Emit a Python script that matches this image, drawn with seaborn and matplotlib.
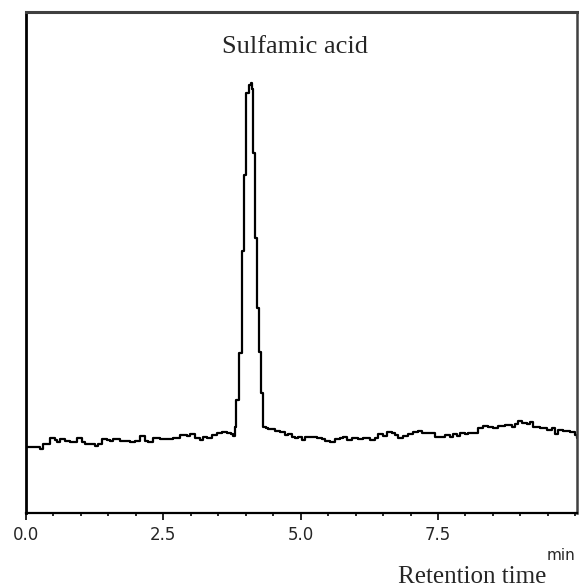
import numpy as np
import pandas as pd
import seaborn as sns
import matplotlib.pyplot as plt
from matplotlib.ticker import MultipleLocator

# retention time (min) and detector signal (arbitrary units)
time = [0.00, 0.195, 0.255, 0.31, 0.44, 0.53, 0.565, 0.62, 0.71, 0.80, 0.93, 1.02, 1.075, 1.20,
        1.26, 1.31, 1.38, 1.475, 1.53, 1.585, 1.71, 1.84, 1.895, 1.985, 2.08, 2.17, 2.22, 2.31,
        2.44, 2.57, 2.68, 2.805, 2.93, 2.99, 3.08, 3.17, 3.22, 3.30, 3.39, 3.48, 3.57, 3.66,
        3.73, 3.77,
        3.80, 3.825, 3.885, 3.93, 3.965, 4.007, 4.053, 4.09, 4.117, 4.14, 4.17, 4.21, 4.25,
        4.28, 4.32, 4.37,
        4.41, 4.535, 4.63, 4.72, 4.77, 4.845, 4.90, 4.955, 5.03, 5.08, 5.21, 5.30, 5.39, 5.445,
        5.54, 5.63, 5.72, 5.775, 5.85, 5.94, 6.05, 6.14, 6.27, 6.36, 6.41, 6.50, 6.575, 6.67,
        6.72, 6.775, 6.87, 6.96, 7.05, 7.14, 7.21, 7.45, 7.63, 7.72, 7.78, 7.85, 7.905, 8.00,
        8.05, 8.235, 8.32, 8.415, 8.505, 8.60, 8.725, 8.85, 8.91, 8.96, 9.035, 9.125, 9.18,
        9.235, 9.36, 9.49, 9.58, 9.635, 9.69, 9.78, 9.91, 10.0, 10.03]
signal = [13.2, 13.2, 12.8, 13.7, 14.9, 14.6, 14.2, 14.7, 14.4, 14.1, 14.9, 14.1, 13.7, 13.7,
          13.4, 13.7, 14.8, 14.6, 14.4, 14.8, 14.4, 14.4, 14.1, 14.4, 15.4, 14.4, 14.1, 15.0,
          14.8, 14.8, 15.0, 15.6, 15.4, 15.7, 14.9, 14.6, 15.2, 14.9, 15.6, 15.9, 16.2, 16.0,
          15.7, 15.4,
          17.2, 22.6, 31.9, 52.2, 67.5, 83.8, 85.4, 85.8, 84.6, 71.9, 54.9, 40.9, 32.2,
          24.0, 17.2, 17.0,
          16.8, 16.4, 16.1, 15.6, 15.7, 15.2, 14.9, 15.2, 14.6, 15.2, 15.2, 14.9, 14.8, 14.4,
          14.2, 14.8, 14.9, 15.2, 14.6, 14.9, 14.8, 14.9, 14.6, 14.9, 15.7, 15.4, 16.1, 15.9,
          15.6, 15.0, 15.4, 15.7, 16.2, 16.4, 15.9, 15.2, 15.6, 15.2, 15.7, 15.4, 15.9, 15.7,
          15.9, 16.9, 17.4, 17.2, 17.0, 17.4, 17.6, 17.2, 17.7, 18.4, 17.9, 17.7, 18.2,
          17.2, 17.0, 16.6, 16.9, 15.7, 16.6, 16.4, 16.1, 15.6, 15.0]

major_ticks = [0.0, 2.5, 5.0, 7.5]
tick_labels = ["0.0", "2.5", "5.0", "7.5"]

df = pd.DataFrame({"time": time, "signal": signal})

sns.set_style("white")
fig = plt.figure(figsize=(5.79, 5.87), dpi=100)
ax = fig.add_axes([26 / 579, 74 / 587, 551 / 579, 501 / 587])

sns.lineplot(data=df, x="time", y="signal", ax=ax, color="black", linewidth=1.6,
             drawstyle="steps-post", estimator=None, sort=False)

ax.set_xlim(0, 10.03)
ax.set_ylim(0, 100)
ax.set_xticks(major_ticks)
ax.set_xticklabels(tick_labels, fontsize=12, family="DejaVu Sans")
ax.xaxis.set_minor_locator(MultipleLocator(0.5))
ax.tick_params(axis="x", which="major", direction="out", length=5, width=1.2, pad=4,
               bottom=True, color="black")
ax.tick_params(axis="x", which="minor", direction="out", length=2.5, width=1.2,
               bottom=True, color="black")
ax.set_yticks([])
ax.set_xlabel("")
ax.set_ylabel("")

for side, lw, col in [("left", 2.0, "black"), ("bottom", 1.6, "black"),
                      ("top", 2.2, "#404040"), ("right", 1.8, "#404040")]:
    ax.spines[side].set_visible(True)
    ax.spines[side].set_linewidth(lw)
    ax.spines[side].set_color(col)

ax.text(4.9, 93, "Sulfamic acid", ha="center", va="center", fontsize=19,
        family="Liberation Serif")
fig.text(561 / 579, 1 - 556 / 587, "min", ha="center", va="center", fontsize=11,
         family="DejaVu Sans")
fig.text(472 / 579, 1 - 577 / 587, "Retention time", ha="center", va="center", fontsize=18,
         family="Liberation Serif")

plt.savefig("out.png", dpi=100)
